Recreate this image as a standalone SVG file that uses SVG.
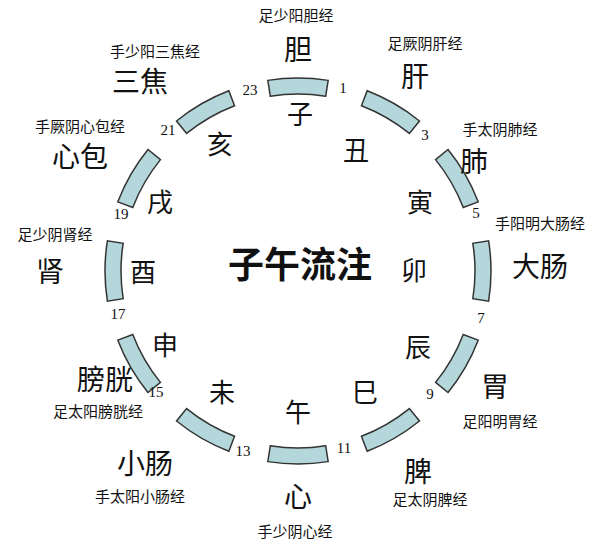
<svg xmlns="http://www.w3.org/2000/svg" width="601" height="549" viewBox="0 0 601 549">
<style>
text{font-family:"Noto Sans CJK SC","Noto Sans CJK JP",sans-serif;text-anchor:middle;dominant-baseline:central;fill:#111}
.seg{fill:#b3d7db;stroke:#333;stroke-width:1.5}
.n{font-family:"Liberation Serif",serif;font-size:15px}
.b{font-size:26px;font-family:"Noto Sans CJK SC",serif}
.o{font-size:28px}
.m{font-size:15px}
.c{font-size:36px;font-weight:bold}
</style>
<defs><path id="s" class="seg" d="M267.81,80.37 A193,193 0 0 1 328.19,80.37 L325.68,96.18 A177,177 0 0 0 270.32,96.18 Z"/></defs>
<rect width="601" height="549" fill="#fff"/>
<g id="segments">
<use href="#s"/><use href="#s" transform="rotate(30 298 271)"/><use href="#s" transform="rotate(60 298 271)"/><use href="#s" transform="rotate(90 298 271)"/><use href="#s" transform="rotate(120 298 271)"/><use href="#s" transform="rotate(150 298 271)"/><use href="#s" transform="rotate(180 298 271)"/><use href="#s" transform="rotate(210 298 271)"/><use href="#s" transform="rotate(240 298 271)"/><use href="#s" transform="rotate(270 298 271)"/><use href="#s" transform="rotate(300 298 271)"/><use href="#s" transform="rotate(330 298 271)"/>
</g>
<g id="hours">
<text class="n" x="343" y="88">1</text><text class="n" x="425" y="135">3</text><text class="n" x="476" y="213">5</text><text class="n" x="481" y="318">7</text><text class="n" x="430" y="394">9</text><text class="n" x="344" y="448">11</text><text class="n" x="243" y="451">13</text><text class="n" x="156" y="392">15</text><text class="n" x="118" y="314">17</text><text class="n" x="121" y="214">19</text><text class="n" x="168" y="130">21</text><text class="n" x="250" y="90">23</text>
</g>
<g id="branches">
<text class="b" x="300" y="112">子</text><text class="b" x="356" y="148">丑</text><text class="b" x="420" y="200">寅</text><text class="b" x="414" y="268">卯</text><text class="b" x="418" y="345">辰</text><text class="b" x="365" y="390">巳</text><text class="b" x="298" y="410">午</text><text class="b" x="222" y="390">未</text><text class="b" x="165" y="343">申</text><text class="b" x="143" y="270">酉</text><text class="b" x="160" y="200">戌</text><text class="b" x="220" y="142">亥</text>
</g>
<g id="center"><text class="c" x="300" y="262">子午流注</text></g>
<g id="organs">
<text class="o" x="298" y="48">胆</text><text class="o" x="415" y="75">肝</text><text class="o" x="474" y="160">肺</text><text class="o" x="540" y="265">大肠</text><text class="o" x="495" y="385">胃</text><text class="o" x="418" y="470">脾</text><text class="o" x="298" y="495">心</text><text class="o" x="145" y="462">小肠</text><text class="o" x="105" y="378">膀胱</text><text class="o" x="50" y="270">肾</text><text class="o" x="80" y="155">心包</text><text class="o" x="140" y="80">三焦</text>
</g>
<g id="meridians">
<text class="m" x="296" y="14">足少阳胆经</text><text class="m" x="425" y="42">足厥阴肝经</text><text class="m" x="500" y="128">手太阴肺经</text><text class="m" x="540" y="222">手阳明大肠经</text><text class="m" x="500" y="420">足阳明胃经</text><text class="m" x="430" y="498">足太阴脾经</text><text class="m" x="295" y="530">手少阴心经</text><text class="m" x="140" y="495">手太阳小肠经</text><text class="m" x="98" y="410">足太阳膀胱经</text><text class="m" x="55" y="233">足少阴肾经</text><text class="m" x="80" y="125">手厥阴心包经</text><text class="m" x="155" y="50">手少阳三焦经</text>
</g>
</svg>
